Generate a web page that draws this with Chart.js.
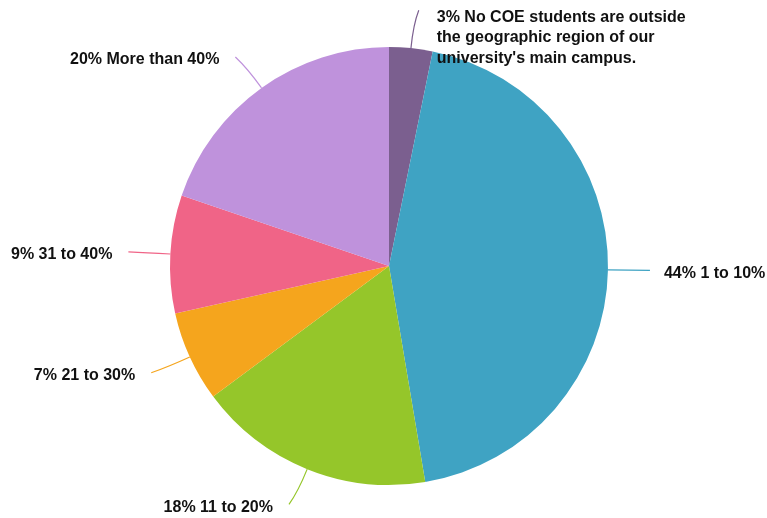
<!DOCTYPE html>
<html>
<head>
<meta charset="utf-8">
<script src="https://cdn.jsdelivr.net/npm/chart.js@4/dist/chart.umd.min.js"></script>
<style>
  html, body { margin: 0; padding: 0; background: #fff; }
  #wrap { width: 767px; height: 518px; }
</style>
</head>
<body>
<div id="wrap"><canvas id="pie" width="767" height="518"></canvas></div>
<script>
// slice values (percent) and their labels
var categories = [
    ["No COE students are outside", "the geographic region of our", "university's main campus."],
    "1 to 10%",
    "11 to 20%",
    "21 to 30%",
    "31 to 40%",
    "More than 40%"
];
var values = [3.2, 44.2, 17.5, 6.7, 8.7, 19.8];
var percentLabels = ["3%", "44%", "18%", "7%", "9%", "20%"];
var colors = ["#7b5f8f", "#3fa3c3", "#95c62a", "#f5a51d", "#f06487", "#bf92dc"];

// draws the callout lines and labels outside each slice
var calloutPlugin = {
    id: 'callouts',
    afterDatasetsDraw: function(chart){
        var ctx = chart.ctx;
        var arcs = chart.getDatasetMeta(0).data;
        ctx.save();
        ctx.font = "bold 16px 'Liberation Sans', Arial, sans-serif";
        ctx.fillStyle = "#111";
        arcs.forEach(function(arc, i){
            var mid = (arc.startAngle + arc.endAngle) / 2;
            var cos = Math.cos(mid), sin = Math.sin(mid);
            var r = arc.outerRadius;
            var sx = arc.x + cos * r, sy = arc.y + sin * r;
            var cx = arc.x + cos * (r + 24), cy = arc.y + sin * (r + 24);
            var right = cos >= 0;
            var ex = arc.x + cos * (r + 38) + (right ? 4 : -4);
            var ey = arc.y + sin * (r + 38);
            ctx.strokeStyle = colors[i];
            ctx.lineWidth = 1.2;
            ctx.beginPath();
            ctx.moveTo(sx, sy);
            ctx.quadraticCurveTo(cx, cy, ex, ey);
            ctx.stroke();

            var lines = Array.isArray(categories[i]) ? categories[i].slice() : [categories[i]];
            lines[0] = percentLabels[i] + " " + lines[0];
            var multi = lines.length > 1;
            ctx.textAlign = right ? "left" : "right";
            ctx.textBaseline = "middle";
            var tx = right ? ex + (multi ? 18 : 14) : ex - 16;
            var ty = multi ? ey + 7 : ey + 3;
            lines.forEach(function(line, k){
                ctx.fillText(line, tx, ty + k * 20.5);
            });
        });
        ctx.restore();
    }
};

new Chart(document.getElementById('pie').getContext('2d'), {
    type: 'pie',
    data: {
        labels: categories.map(function(c){ return Array.isArray(c) ? c.join(' ') : c; }),
        datasets: [{
            data: values,
            backgroundColor: colors,
            borderWidth: 0
        }]
    },
    options: {
        responsive: false,
        animation: false,
        layout: { padding: { top: 47, bottom: 33, left: 100, right: 89 } },
        plugins: {
            legend: { display: false },
            tooltip: { enabled: false }
        }
    },
    plugins: [calloutPlugin]
});
</script>
</body>
</html>
